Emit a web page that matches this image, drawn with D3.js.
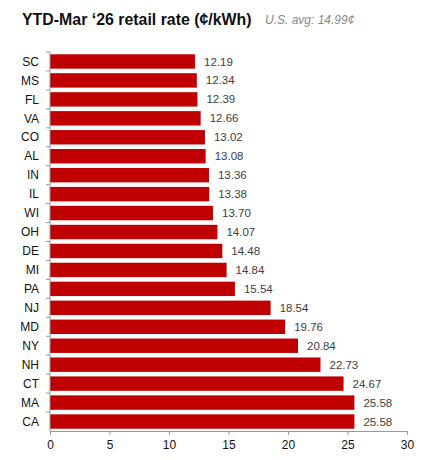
<!DOCTYPE html>
<html>
<head>
<meta charset="utf-8">
<script src="https://cdn.jsdelivr.net/npm/d3@7"></script>
<style>
  body { margin: 0; background: #fff; }
  text { font-family: "Liberation Sans", Arial, sans-serif; }
</style>
</head>
<body>
<div id="chart"></div>
<script>
var states = ['SC', 'MS', 'FL', 'VA', 'CO', 'AL', 'IN', 'IL', 'WI', 'OH',
              'DE', 'MI', 'PA', 'NJ', 'MD', 'NY', 'NH', 'CT', 'MA', 'CA'];
var rates = [12.19, 12.34, 12.39, 12.66, 13.02, 13.08, 13.36, 13.38, 13.70, 14.07,
             14.48, 14.84, 15.54, 18.54, 19.76, 20.84, 22.73, 24.67, 25.58, 25.58];
var xTicks = [0, 5, 10, 15, 20, 25, 30];
var title = 'YTD-Mar \u201826 retail rate (\u00a2/kWh)';
var subtitle = 'U.S. avg: 14.99\u00a2';

var w = 433, h = 460;
var margin = { top: 52, right: 26, bottom: 29, left: 50 };

var svg = d3.select('#chart').append('svg')
  .attr('width', w)
  .attr('height', h);

svg.append('text')
  .attr('x', 22)
  .attr('y', 25)
  .attr('font-size', 15.9)
  .attr('font-weight', 'bold')
  .attr('fill', '#111')
  .text(title);

svg.append('text')
  .attr('x', 265)
  .attr('y', 24)
  .attr('font-size', 12)
  .attr('font-style', 'italic')
  .attr('fill', '#888')
  .text(subtitle);

var x = d3.scaleLinear()
  .domain([0, 30])
  .range([margin.left, w - margin.right]);

var y = d3.scaleBand()
  .domain(states)
  .range([margin.top, h - margin.bottom])
  .paddingInner(0.24)
  .paddingOuter(0.12);

var data = states.map(function(s, i) { return { state: s, rate: rates[i] }; });

svg.selectAll('.bar').data(data)
  .enter().append('rect')
  .attr('class', 'bar')
  .attr('x', x(0))
  .attr('y', function(d) { return y(d.state); })
  .attr('width', function(d) { return x(d.rate) - x(0); })
  .attr('height', y.bandwidth())
  .attr('fill', '#c00000');

svg.selectAll('.val').data(data)
  .enter().append('text')
  .attr('class', 'val')
  .attr('x', function(d) { return x(d.rate) + 9; })
  .attr('y', function(d) { return y(d.state) + y.bandwidth() / 2; })
  .attr('dy', '0.35em')
  .attr('font-size', 11.5)
  .attr('fill', '#404040')
  .text(function(d) { return d.rate.toFixed(2); });

// x axis
var xAxis = svg.append('g')
  .attr('transform', 'translate(0,' + (h - margin.bottom) + ')')
  .call(d3.axisBottom(x).tickValues(xTicks).tickSize(4).tickSizeOuter(0));
xAxis.select('.domain').attr('stroke', '#999');
xAxis.selectAll('.tick line').attr('stroke', '#999');
xAxis.selectAll('.tick text')
  .attr('font-size', 12)
  .attr('fill', '#111')
  .attr('dy', '0.95em')
  .style('font-family', '"Liberation Sans", Arial, sans-serif');

// y axis, ticks sit between the bands
var step = y.step();
var yAxis = svg.append('g');
yAxis.append('line')
  .attr('x1', x(0)).attr('x2', x(0))
  .attr('y1', margin.top).attr('y2', h - margin.bottom)
  .attr('stroke', '#999');
yAxis.selectAll('.ytick').data(states)
  .enter().append('line')
  .attr('class', 'ytick')
  .attr('x1', x(0) - 4).attr('x2', x(0))
  .attr('y1', function(d) { return y(d) - step * y.paddingInner() / 2; })
  .attr('y2', function(d) { return y(d) - step * y.paddingInner() / 2; })
  .attr('stroke', '#999');
yAxis.selectAll('.ylab').data(states)
  .enter().append('text')
  .attr('class', 'ylab')
  .attr('x', x(0) - 11)
  .attr('y', function(d) { return y(d) + y.bandwidth() / 2; })
  .attr('dy', '0.35em')
  .attr('text-anchor', 'end')
  .attr('font-size', 12)
  .attr('fill', '#111')
  .text(function(d) { return d; });
</script>
</body>
</html>
